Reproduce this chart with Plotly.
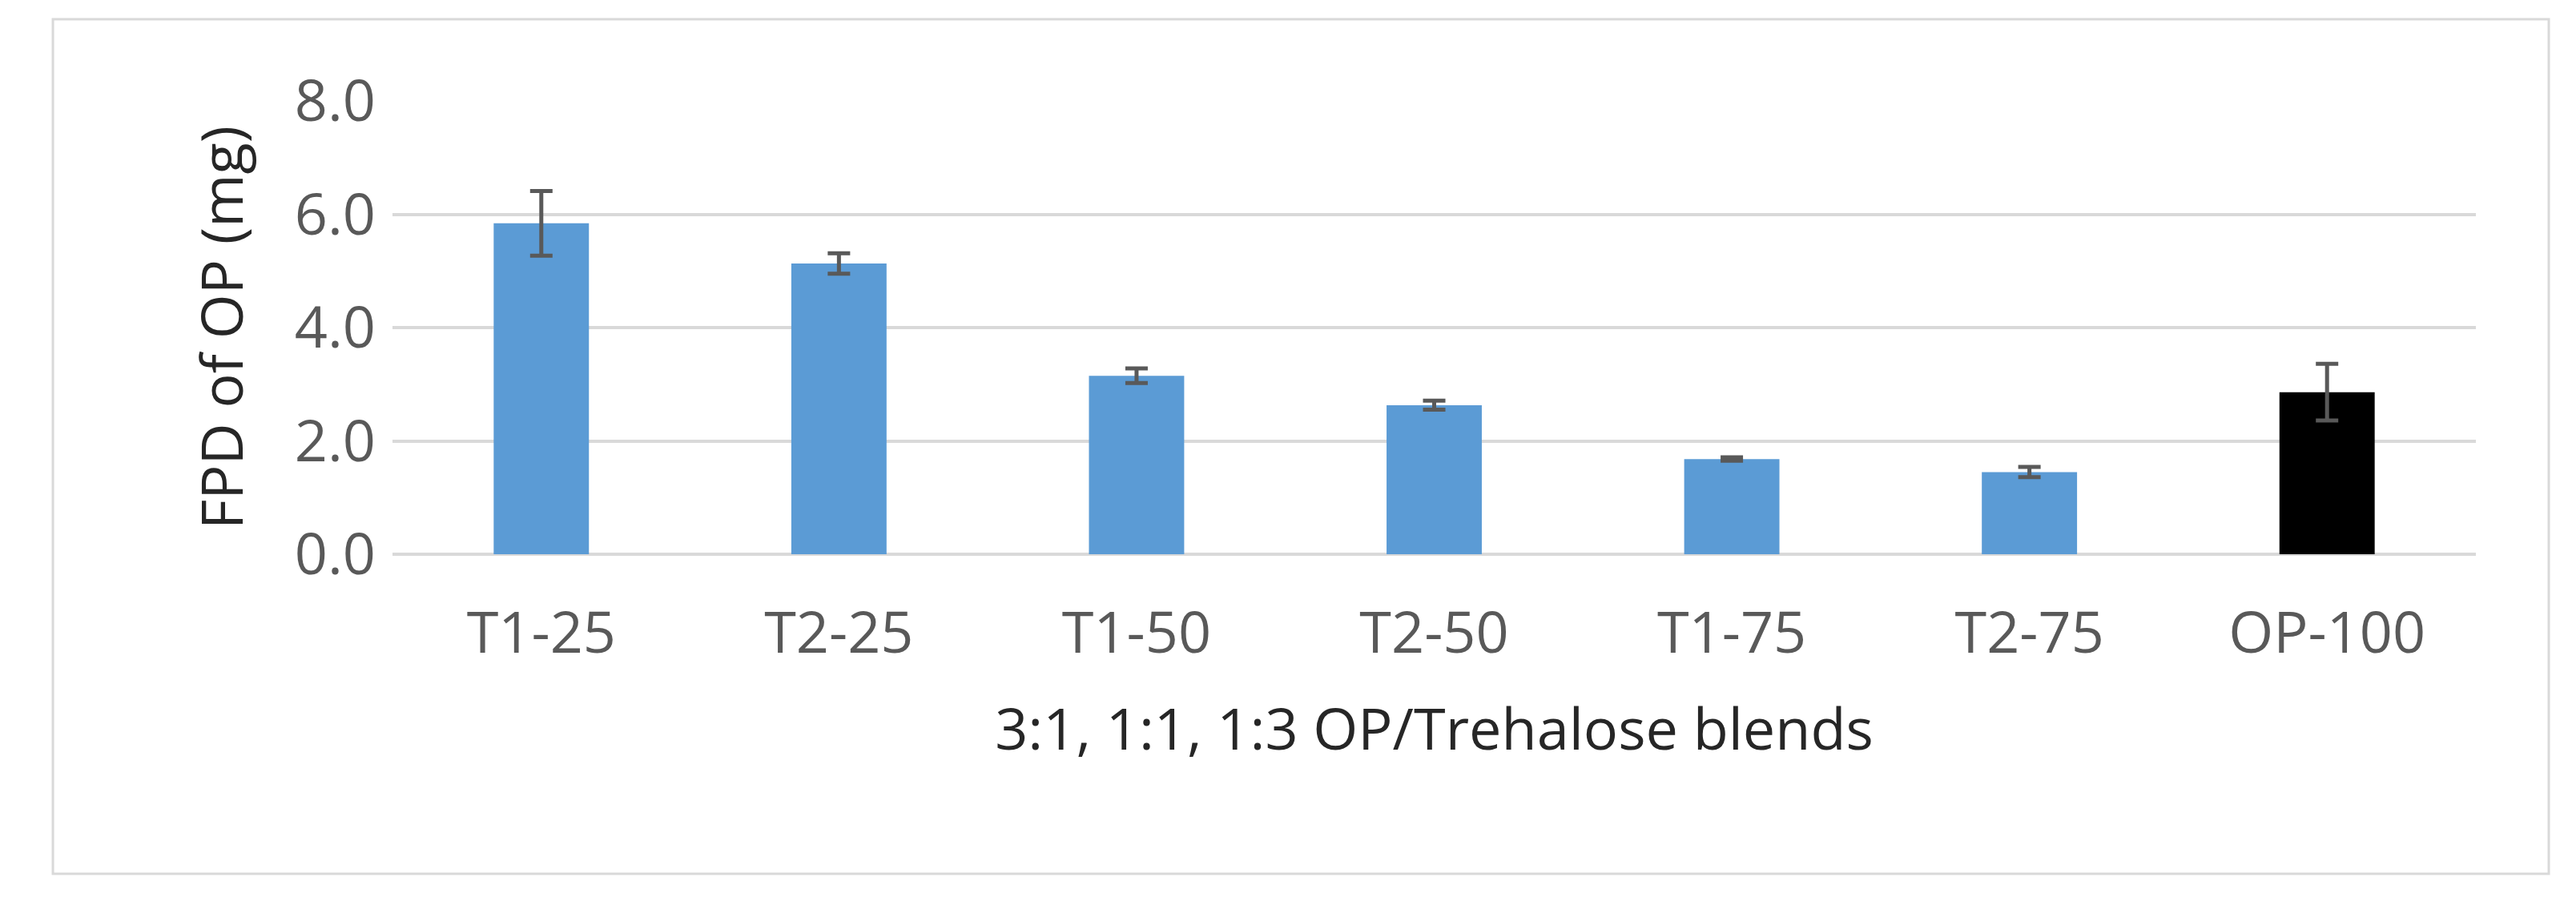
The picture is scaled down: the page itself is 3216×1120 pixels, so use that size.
import plotly.graph_objects as go

categories = ["T1-25", "T2-25", "T1-50", "T2-50", "T1-75", "T2-75", "OP-100"]
fpd_values = [5.84, 5.13, 3.15, 2.63, 1.68, 1.45, 2.86]
fpd_errors = [0.57, 0.18, 0.13, 0.08, 0.03, 0.09, 0.50]
bar_colors = ["#5B9BD5"] * 6 + ["#000000"]

fig = go.Figure()
fig.add_trace(go.Bar(
    x=categories, y=fpd_values,
    marker=dict(color=bar_colors, line=dict(width=0)),
    width=0.32,
    error_y=dict(type="data", array=fpd_errors, color="#595959", thickness=5, width=14),
))

fig.update_layout(
    width=3216, height=1120,
    plot_bgcolor="white", paper_bgcolor="white",
    font=dict(family="Open Sans", color="#404040", size=68),
    margin=dict(l=482, r=133, t=118, b=436),
    showlegend=False,
    xaxis=dict(
        title=dict(text="3:1, 1:1, 1:3 OP/Trehalose blends", font=dict(size=72, color="#262626"), standoff=50),
        tickfont=dict(size=72, color="#595959"), showline=False, ticks="",
        ticklabelstandoff=50,
    ),
    yaxis=dict(
        title=dict(text="FPD of OP (mg)", font=dict(size=72, color="#262626"), standoff=40),
        range=[0, 8.0], dtick=2, tickformat=".1f",
        tickfont=dict(size=72, color="#595959"), ticklabelstandoff=20,
        gridcolor="#D9D9D9", gridwidth=4, zeroline=True, zerolinecolor="#D9D9D9", zerolinewidth=4,
    ),
    shapes=[dict(type="rect", xref="paper", yref="paper", x0=-0.163, x1=1.035, y0=-0.705, y1=1.18,
                 line=dict(color="#D9D9D9", width=3))],
)

fig.write_html("out.html")
